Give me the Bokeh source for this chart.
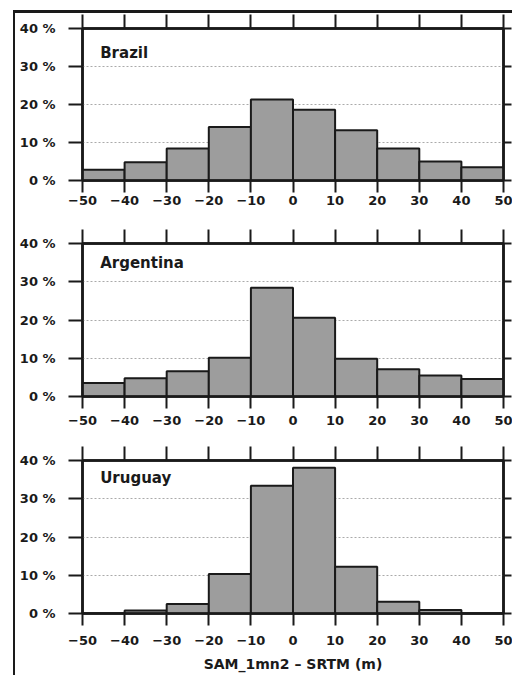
from bokeh.plotting import figure
from bokeh.layouts import column, row
from bokeh.models import LinearAxis, FixedTicker, Range1d, Label, Div
from bokeh.embed import file_html
from bokeh.resources import INLINE

# ---------------- data ----------------
bin_edges = [-50, -40, -30, -20, -10, 0, 10, 20, 30, 40, 50]
brazil = [2.8, 4.8, 8.4, 14.1, 21.3, 18.6, 13.2, 8.4, 5.0, 3.5]
argentina = [3.5, 4.8, 6.6, 10.1, 28.4, 20.6, 9.9, 7.1, 5.5, 4.6]
uruguay = [0.0, 0.8, 2.5, 10.3, 33.4, 38.1, 12.2, 3.1, 0.9, 0.0]
countries = ["Brazil", "Argentina", "Uruguay"]
x_ticks = [-50, -40, -30, -20, -10, 0, 10, 20, 30, 40, 50]
x_tick_labels = ["\u221250", "\u221240", "\u221230", "\u221220", "\u221210",
                 "0", "10", "20", "30", "40", "50"]
y_ticks = [0, 10, 20, 30, 40]
y_tick_labels = ["0 %", "10 %", "20 %", "30 %", "40 %"]
x_title = "SAM_1mn2 \u2013 SRTM (m)"

series = [brazil, argentina, uruguay]

FONT = "DejaVu Sans"
INK = "#1a1a1a"
BAR = "#9d9d9d"

label_y = [33.6, 34.8, 35.3]
# (top border, frame height, bottom border, tick-label standoff)
geom = [(15, 152, 48, 3), (15, 153, 49, 7), (15, 153, 62, 10)]

figs = []
for i, (name, vals) in enumerate(zip(countries, series)):
    top_b, fh, bot_b, lab_so = geom[i]
    p = figure(output_backend="svg", toolbar_location=None,
               frame_width=421, frame_height=fh,
               min_border_left=67, min_border_right=9,
               min_border_top=top_b, min_border_bottom=bot_b,
               x_range=Range1d(-50, 50), y_range=Range1d(0, 40),
               x_axis_location=None, y_axis_location=None,
               background_fill_color="white", border_fill_color="white")
    p.outline_line_color = INK
    p.outline_line_width = 2.5

    p.quad(left=bin_edges[:-1], right=bin_edges[1:], bottom=0, top=vals,
           fill_color=BAR, line_color=INK, line_width=2)

    # grid
    p.xgrid.visible = False
    p.ygrid.ticker = FixedTicker(ticks=y_ticks)
    p.ygrid.grid_line_color = "#aaaaaa"
    p.ygrid.grid_line_dash = "2 2"
    p.ygrid.grid_line_width = 1
    p.ygrid.level = "underlay"

    # left axis
    ly = LinearAxis(ticker=FixedTicker(ticks=y_ticks),
                    major_label_overrides={t: l for t, l in zip(y_ticks, y_tick_labels)})
    ly.major_tick_out = 14
    ly.major_tick_in = 0
    ly.minor_tick_out = 0
    ly.minor_tick_in = 0
    ly.major_tick_line_color = INK
    ly.major_tick_line_width = 2
    ly.axis_line_color = INK
    ly.axis_line_width = 2.5
    ly.major_label_standoff = 13
    ly.major_label_text_font = FONT
    ly.major_label_text_font_style = "bold"
    ly.major_label_text_font_size = "13px"
    ly.major_label_text_color = INK
    p.add_layout(ly, "left")

    # right axis (ticks only)
    ry = LinearAxis(ticker=FixedTicker(ticks=y_ticks),
                    major_label_overrides={t: "" for t in y_ticks})
    ry.major_tick_out = 8
    ry.major_tick_in = 0
    ry.minor_tick_out = 0
    ry.minor_tick_in = 0
    ry.major_tick_line_color = INK
    ry.major_tick_line_width = 2
    ry.axis_line_color = INK
    ry.axis_line_width = 2.5
    ry.major_label_standoff = 0
    ry.major_label_text_font_size = "0px"
    p.add_layout(ry, "right")

    # top axis (ticks only)
    tx = LinearAxis(ticker=FixedTicker(ticks=x_ticks),
                    major_label_overrides={t: "" for t in x_ticks})
    tx.major_tick_out = 14
    tx.major_tick_in = 0
    tx.minor_tick_out = 0
    tx.minor_tick_in = 0
    tx.major_tick_line_color = INK
    tx.major_tick_line_width = 2
    tx.axis_line_color = INK
    tx.axis_line_width = 2.5
    tx.major_label_standoff = 0
    tx.major_label_text_font_size = "0px"
    p.add_layout(tx, "above")

    # bottom axis
    bx = LinearAxis(ticker=FixedTicker(ticks=x_ticks),
                    major_label_overrides={t: l for t, l in zip(x_ticks, x_tick_labels)})
    bx.major_tick_out = 12
    bx.major_tick_in = 0
    bx.minor_tick_out = 0
    bx.minor_tick_in = 0
    bx.major_tick_line_color = INK
    bx.major_tick_line_width = 2
    bx.axis_line_color = INK
    bx.axis_line_width = 2.5
    bx.major_label_standoff = lab_so
    bx.major_label_text_font = FONT
    bx.major_label_text_font_style = "bold"
    bx.major_label_text_font_size = "13px"
    bx.major_label_text_color = INK
    if i == 2:
        bx.axis_label = x_title
        bx.axis_label_text_font = FONT
        bx.axis_label_text_font_style = "bold"
        bx.axis_label_text_font_size = "14px"
        bx.axis_label_text_color = INK
        bx.axis_label_standoff = 8
    p.add_layout(bx, "below")

    p.add_layout(Label(x=-45.8, y=label_y[i], text=name,
                       text_font=FONT, text_font_style="bold",
                       text_font_size="15px", text_color=INK,
                       text_baseline="middle", text_align="left"))
    figs.append(p)

top_line = Div(text="", width=499, height=3, margin=(5, 0, 0, 0),
               styles={"background-color": INK, "overflow": "hidden"})
left_line = Div(text="", width=2, height=662, margin=0,
                styles={"background-color": INK, "overflow": "hidden"})
panels = column(*figs, spacing=0)
layout = column(top_line, row(left_line, panels, spacing=0),
                spacing=0, margin=(5, 0, 0, 13))

open("out.html", "w").write(file_html(layout, INLINE))
